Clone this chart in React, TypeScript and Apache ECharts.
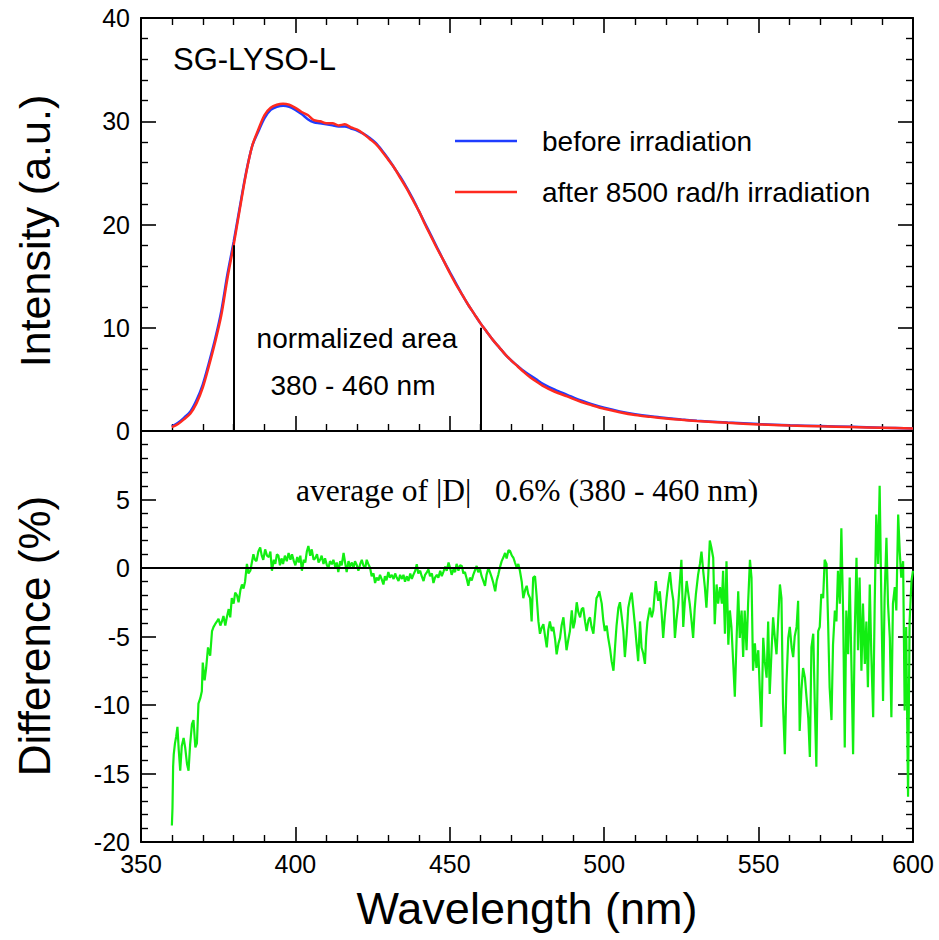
import React, { useEffect, useRef } from "react";
import * as echarts from "echarts";

// ---------- data ----------
const spectrumWavelengths = [
  360, 362, 364, 366, 368, 370, 372, 374, 376, 378, 380, 382, 384, 386, 388, 390,
  392, 394, 396, 398, 400, 402, 404, 406, 408, 410, 412, 414, 416, 418, 420, 422,
  424, 426, 428, 430, 432, 434, 436, 438, 440, 442, 444, 446, 448, 450, 452, 454,
  456, 458, 460, 462, 464, 466, 468, 470, 472, 474, 476, 478, 480, 484, 488, 492,
  496, 500, 505, 510, 515, 520, 525, 530, 540, 550, 560, 570, 580, 590, 600,
];
const beforeIntensity = [
  0.45, 0.8, 1.3, 1.9, 3.0, 4.5, 6.6, 8.9, 11.6, 15.2, 18.3, 21.7, 25.0, 27.6, 29.0, 30.3,
  31.1, 31.4, 31.5, 31.4, 31.1, 30.7, 30.2, 29.9, 29.8, 29.7, 29.6, 29.5, 29.5, 29.3, 29.1, 28.8,
  28.4, 27.9, 27.2, 26.4, 25.5, 24.6, 23.6, 22.5, 21.3, 20.1, 18.9, 17.7, 16.5, 15.4, 14.3, 13.2,
  12.2, 11.3, 10.4, 9.6, 8.8, 8.1, 7.4, 6.8, 6.3, 5.8, 5.4, 5.0, 4.6, 4.0, 3.5, 3.0,
  2.6, 2.25, 1.9, 1.62, 1.42, 1.27, 1.12, 1.0, 0.82, 0.67, 0.56, 0.48, 0.4, 0.32, 0.25,
];
const afterIntensity = [
  0.38, 0.68, 1.15, 1.7, 2.7, 4.2, 6.3, 8.6, 11.2, 14.8, 18.0, 21.5, 24.9, 27.6, 29.2, 30.6,
  31.3, 31.6, 31.7, 31.6, 31.3, 30.9, 30.6, 30.1, 30.0, 29.8, 29.8, 29.6, 29.7, 29.4, 29.2, 28.8,
  28.3, 27.8, 27.1, 26.3, 25.5, 24.5, 23.5, 22.4, 21.3, 20.0, 18.8, 17.6, 16.5, 15.3, 14.2, 13.2,
  12.2, 11.3, 10.4, 9.6, 8.8, 8.1, 7.4, 6.8, 6.25, 5.7, 5.2, 4.8, 4.4, 3.8, 3.35, 2.88,
  2.5, 2.15, 1.82, 1.55, 1.37, 1.22, 1.08, 0.97, 0.79, 0.64, 0.53, 0.45, 0.38, 0.31, 0.24,
];

// normalization window markers: [wavelength, height]
const areaMarkers = [
  [380, 18],
  [460, 10],
];

// difference (%) : [wavelength, value]
const differencePoints: [number, number][] = [
  [360.0, -18.8], [360.2, -17.5], [360.4, -14.5], [360.6, -13.6], [361.0, -12.8], [361.4, -12.3],
  [361.8, -11.6], [362.2, -13.2], [362.7, -14.8], [363.2, -13.0], [363.8, -12.4], [364.3, -13.1],
  [364.9, -14.3], [365.4, -14.8], [365.9, -12.9], [366.5, -11.4], [367.0, -11.1], [367.6, -13.1],
  [368.1, -12.8], [368.6, -9.9], [369.2, -9.5], [369.7, -9.0], [370.0, -6.9], [370.6, -8.2],
  [371.1, -7.3], [371.7, -5.8], [372.4, -6.4], [373.0, -4.6], [373.5, -4.3], [374.0, -4.1],
  [374.6, -3.9], [375.1, -3.7], [375.7, -4.2], [376.2, -3.9], [376.7, -3.5], [377.3, -4.2],
  [377.8, -3.6], [378.4, -3.0], [378.9, -3.6], [379.4, -2.2], [380.0, -2.6], [380.5, -1.8],
  [381.1, -2.0], [381.6, -2.5], [382.2, -1.6], [382.7, -1.2], [383.2, -1.5], [383.7, -1.0],
  [384.3, 0.3], [384.8, -0.4], [385.4, -0.2], [385.9, 0.4], [386.4, 1.0], [386.9, 0.6],
  [387.4, 0.5], [388.0, 1.2], [388.6, 1.5], [389.1, 0.9], [389.6, 0.6], [390.2, 1.36],
  [390.8, 0.9], [391.4, 0.8], [391.9, 1.2], [392.4, -0.2], [393.0, 0.6], [393.5, 0.3],
  [394.0, 1.0], [394.5, 0.9], [395.0, 0.2], [395.5, 0.7], [396.0, 0.3], [396.6, 0.9],
  [397.2, 0.5], [397.8, 1.1], [398.4, 0.6], [398.9, 1.0], [399.5, 0.5], [400.0, 0.2],
  [400.6, 0.8], [401.1, 0.4], [401.6, 0.9], [402.1, -0.2], [402.7, 0.6], [403.2, 0.4],
  [403.7, 1.2], [404.2, 1.6], [404.8, 0.9], [405.3, 1.36], [405.9, 0.6], [406.4, 0.7],
  [407.0, 1.0], [407.5, 0.4], [408.0, 0.6], [408.5, 0.9], [409.1, 0.3], [409.6, 0.7],
  [410.2, 0.2], [410.7, 0.0], [411.2, 0.5], [411.8, 0.27], [412.3, 0.6], [412.9, 0.1],
  [413.4, 0.4], [413.9, -0.3], [414.5, 0.5], [415.0, 0.2], [415.6, 1.1], [416.1, 0.4],
  [416.6, -0.3], [417.2, 0.5], [417.7, 0.1], [418.3, 0.4], [418.8, 0.0], [419.3, 0.5],
  [419.9, 0.2], [420.4, -0.2], [421.0, 0.3], [421.5, 0.6], [422.0, 0.2], [422.6, 0.0],
  [423.1, 0.6], [423.6, 0.3], [424.2, 0.0], [424.7, -0.6], [425.3, -0.4], [425.8, -1.1],
  [426.3, -0.7], [426.9, -0.9], [427.4, -0.5], [427.9, -0.8], [428.5, -1.2], [429.0, -0.6],
  [429.5, -0.9], [430.1, -0.3], [430.6, -0.7], [431.2, -0.5], [431.8, -0.8], [432.3, -0.4],
  [432.8, -0.7], [433.4, -0.95], [433.9, -0.5], [434.5, -0.8], [435.0, -0.5], [435.5, -1.0],
  [436.1, -0.6], [436.6, -0.95], [437.2, -0.4], [437.7, -0.8], [438.2, -0.5], [438.8, -0.2],
  [439.3, 0.27], [439.8, -0.4], [440.4, -0.2], [440.9, -0.6], [441.5, -0.95], [442.0, -0.5],
  [442.6, -0.3], [443.1, -0.1], [443.6, -0.6], [444.2, -0.4], [444.7, -1.1], [445.2, -0.7],
  [445.8, -0.5], [446.3, -0.7], [446.9, -0.2], [447.4, -0.6], [447.9, -0.3], [448.5, 0.1],
  [449.0, -0.2], [449.6, 0.4], [450.1, 0.0], [450.6, -0.5], [451.2, -0.1], [451.7, -0.3],
  [452.2, 0.3], [452.8, -0.2], [453.3, 0.2], [453.9, 0.15], [454.4, -0.4], [454.9, -0.3],
  [455.5, -0.8], [456.0, -1.3], [456.5, -0.7], [457.1, -0.9], [457.6, -0.5], [458.1, -0.2],
  [458.7, 0.15], [459.2, -0.3], [459.8, -0.1], [460.3, -0.6], [460.8, -0.9], [461.4, -1.3],
  [461.9, -0.5], [462.5, 0.0], [463.0, -0.3], [463.6, -0.7], [464.1, -1.1], [464.7, -1.7],
  [465.2, -0.9], [465.7, -0.5], [466.3, 0.1], [466.8, 0.5], [467.4, 0.8], [467.9, 1.1],
  [468.4, 0.7], [469.0, 1.3], [469.5, 1.24], [470.1, 0.9], [470.6, 0.75], [471.1, 0.4],
  [471.7, 0.0], [472.2, 0.3], [472.7, -0.2], [473.3, -1.0], [473.8, -2.2], [474.4, -1.6],
  [474.9, -1.3], [475.4, -1.9], [476.0, -2.2], [476.5, -3.9], [477.0, -0.7], [477.6, -0.6],
  [478.1, -2.0], [478.7, -3.9], [479.2, -4.8], [479.7, -4.4], [480.3, -4.1], [480.8, -4.9],
  [481.4, -5.8], [481.9, -4.5], [482.4, -3.9], [483.0, -4.6], [483.5, -4.3], [484.1, -5.2],
  [484.6, -6.3], [485.2, -5.5], [485.7, -5.1], [486.2, -4.2], [486.8, -3.6], [487.3, -4.8],
  [487.8, -6.0], [488.4, -5.2], [488.9, -4.6], [489.5, -3.1], [490.0, -4.4], [490.5, -3.9],
  [491.1, -2.5], [491.6, -3.2], [492.2, -3.6], [492.7, -3.0], [493.2, -2.9], [493.8, -3.9],
  [494.3, -4.6], [494.9, -3.8], [495.4, -3.6], [495.9, -4.3], [496.5, -4.8], [497.0, -3.5],
  [497.5, -2.2], [498.0, -2.0], [498.4, -1.7], [499.2, -2.6], [499.7, -3.8], [500.2, -4.6],
  [500.8, -4.2], [501.3, -5.1], [501.9, -5.9], [502.4, -6.8], [503.0, -7.5], [503.5, -5.8],
  [504.0, -4.2], [504.6, -2.9], [505.1, -2.5], [505.7, -3.6], [506.2, -4.6], [506.7, -6.5],
  [507.3, -4.8], [507.8, -2.9], [508.4, -2.2], [508.9, -1.8], [509.4, -2.9], [510.0, -4.3],
  [510.5, -5.6], [511.0, -6.8], [511.6, -3.9], [512.1, -5.8], [512.6, -6.2], [513.2, -7.0],
  [513.6, -5.0], [514.0, -3.9], [514.8, -2.9], [515.4, -3.6], [515.9, -3.1], [516.3, -2.0],
  [516.7, -0.95], [517.1, -1.8], [517.5, -2.4], [518.0, -1.7], [518.6, -3.3], [519.1, -5.1],
  [519.6, -3.6], [520.2, -2.2], [520.7, -1.2], [521.3, -0.3], [521.8, -1.5], [522.4, -2.4],
  [522.9, -5.1], [523.4, -3.8], [524.0, -2.6], [524.5, -1.0], [525.0, 0.6], [525.6, -4.3],
  [526.1, -2.5], [526.7, -0.95], [527.2, -1.8], [527.7, -2.6], [528.3, -3.9], [528.8, -5.1],
  [529.3, -3.0], [529.7, -1.9], [530.4, -0.5], [531.0, 0.3], [531.5, 1.2], [532.1, -0.3],
  [532.6, -1.4], [533.1, -2.9], [533.7, -0.5], [534.2, 2.0], [534.7, 1.5], [535.3, 0.75],
  [535.8, -4.1], [536.4, -1.2], [536.9, -2.6], [537.5, -1.4], [538.1, -2.6], [538.5, -0.2],
  [539.1, -4.8], [539.6, 0.5], [540.2, -5.6], [540.7, -3.1], [541.2, -4.3], [541.8, -7.0],
  [542.3, -9.4], [542.9, -5.0], [543.4, -1.7], [543.9, -5.1], [544.5, -3.1], [545.0, -6.5],
  [545.5, -3.1], [546.1, -6.0], [546.6, -2.6], [547.2, 0.6], [547.7, -0.7], [548.2, -7.5],
  [548.8, -5.5], [549.3, -7.3], [549.9, -6.0], [550.4, -9.0], [550.9, -11.6], [551.5, -5.1],
  [552.0, -6.8], [552.6, -8.0], [553.1, -3.9], [553.6, -9.2], [554.2, -6.0], [554.7, -3.6],
  [555.3, -5.2], [555.8, -6.3], [556.4, -3.5], [556.9, -1.2], [557.4, -2.2], [557.9, -9.9],
  [558.5, -13.6], [559.0, -8.5], [559.6, -5.1], [560.1, -4.3], [560.7, -5.8], [561.2, -6.5],
  [561.7, -5.0], [562.3, -4.3], [562.8, -2.4], [563.3, -11.9], [563.9, -8.8], [564.4, -7.3],
  [565.0, -8.0], [565.5, -9.4], [566.1, -11.0], [566.6, -13.8], [567.1, -5.8], [567.7, -4.8],
  [568.2, -9.9], [568.7, -14.5], [569.3, -4.6], [569.8, -4.3], [570.3, -1.9], [570.9, -2.2],
  [571.4, 0.6], [572.0, 0.3], [572.5, -3.9], [573.0, -8.7], [573.6, -11.1], [574.1, -5.6],
  [574.7, -3.1], [575.2, -3.9], [575.7, -0.2], [576.3, -2.6], [576.8, 2.9], [577.4, -3.6],
  [577.9, -13.1], [578.4, -3.1], [579.0, -6.3], [579.5, -0.7], [580.1, -7.5], [580.6, -13.6],
  [581.1, -5.1], [581.7, 0.75], [582.2, -6.0], [582.7, -0.7], [583.3, -7.5], [583.8, -2.6],
  [584.4, -7.0], [584.9, -3.9], [585.4, -8.7], [586.0, -1.2], [586.5, -6.3], [587.1, -10.9],
  [587.6, -2.6], [588.1, 3.9], [588.7, 0.3], [589.2, 6.0], [589.8, -3.1], [590.3, -9.7],
  [590.8, -2.2], [591.4, 2.2], [591.9, -2.6], [592.5, -5.1], [593.0, -10.9], [593.5, -2.6],
  [594.1, -1.4], [594.6, -3.1], [595.2, 3.9], [595.7, 1.2], [596.2, -0.7], [596.8, 0.5],
  [597.3, -10.4], [597.8, -4.3], [598.4, -16.7], [598.9, -3.9], [599.5, -0.95], [600.0, -0.2],
];

const xTicks = { min: 350, max: 600, interval: 50 };
const intensityTicks = { min: 0, max: 40, interval: 10 };
const differenceTicks = { min: -20, max: 10, interval: 5 };

const seriesNames = ["before irradiation", "after 8500 rad/h irradiation"];
const panelLabel = "SG-LYSO-L";
const areaLabelLines = ["normalized area", "380 - 460 nm"];
const averageNote = "average of |D|\u00a0\u00a0 0.6% (380 - 460 nm)";

// ---------- styling ----------
const SANS = "'Liberation Sans', Arial, Helvetica, sans-serif";
const SERIF = "'Liberation Serif', 'Times New Roman', serif";
const BLUE = "#1f3dff";
const RED = "#ff2a1f";
const GREEN = "#12ee12";

const axisLine = { show: true, onZero: false, lineStyle: { color: "#000", width: 2 } };
const axisTick = { show: true, inside: true, length: 15, lineStyle: { color: "#000", width: 1.6 } };
const minorTick = { show: true, splitNumber: 5, length: 7, lineStyle: { color: "#000", width: 1.4 } };

function makeX(gridIndex: number, position: string, showLabel: boolean, showTicks = true) {
  return {
    type: "value",
    gridIndex,
    position,
    ...xTicks,
    axisLine,
    axisTick: { ...axisTick, show: showTicks },
    minorTick: { ...minorTick, show: showTicks },
    splitLine: { show: false },
    axisLabel: {
      show: showLabel,
      color: "#000",
      fontFamily: SANS,
      fontSize: 25,
      margin: 9,
    },
  };
}

function makeY(gridIndex: number, position: string, range: any, showLabel: boolean, hide?: number) {
  return {
    type: "value",
    gridIndex,
    position,
    ...range,
    axisLine,
    axisTick,
    minorTick,
    splitLine: { show: false },
    axisLabel: {
      show: showLabel,
      color: "#000",
      fontFamily: SANS,
      fontSize: 25,
      margin: 11,
      formatter: (v: number) => (hide !== undefined && v === hide ? "" : String(v)),
    },
  };
}

export default function App() {
  const ref = useRef<HTMLDivElement>(null);

  useEffect(() => {
    document.body.style.margin = "0";
    document.body.style.overflow = "hidden";
    if (!ref.current) return;
    const chart = echarts.init(ref.current, undefined, { renderer: "svg" });

    const before = spectrumWavelengths.map((w, i) => [w, beforeIntensity[i]]);
    const after = spectrumWavelengths.map((w, i) => [w, afterIntensity[i]]);

    const option: any = {
      animation: false,
      backgroundColor: "#fff",
      grid: [
        { left: 141, top: 18, width: 772, height: 413 },
        { left: 141, top: 431, width: 772, height: 411 },
      ],
      xAxis: [
        makeX(0, "bottom", false),
        makeX(0, "top", false),
        makeX(1, "bottom", true),
        makeX(1, "top", false, false),
      ],
      yAxis: [
        makeY(0, "left", intensityTicks, true),
        makeY(0, "right", intensityTicks, false),
        makeY(1, "left", differenceTicks, true, 10),
        makeY(1, "right", differenceTicks, false),
      ],
      legend: {
        orient: "vertical",
        left: 450,
        top: 121,
        icon: "rect",
        itemWidth: 62,
        itemHeight: 2.5,
        itemGap: 21,
        data: seriesNames,
        textStyle: {
          fontFamily: SANS,
          fontSize: 28,
          lineHeight: 30,
          color: "#000",
          padding: [0, 0, 0, 20],
        },
      },
      series: [
        {
          name: seriesNames[0],
          type: "line",
          xAxisIndex: 0,
          yAxisIndex: 0,
          data: before,
          smooth: 0.3,
          symbol: "none",
          color: BLUE,
          lineStyle: { color: BLUE, width: 2.5 },
          z: 2,
          markLine: {
            silent: true,
            symbol: "none",
            label: { show: false },
            lineStyle: { color: "#000", width: 2, type: "solid" },
            data: areaMarkers.map(([w, h]) => [{ coord: [w, 0] }, { coord: [w, h] }]),
          },
        },
        {
          name: seriesNames[1],
          type: "line",
          xAxisIndex: 0,
          yAxisIndex: 0,
          data: after,
          smooth: 0.3,
          symbol: "none",
          color: RED,
          lineStyle: { color: RED, width: 2.5 },
          z: 3,
        },
        {
          name: "difference",
          type: "line",
          xAxisIndex: 2,
          yAxisIndex: 2,
          data: differencePoints,
          symbol: "none",
          color: GREEN,
          lineStyle: { color: GREEN, width: 2.2 },
          z: 2,
          markLine: {
            silent: true,
            symbol: "none",
            label: { show: false },
            lineStyle: { color: "#000", width: 2, type: "solid" },
            data: [{ yAxis: 0 }],
          },
        },
      ],
      graphic: [
        {
          type: "text",
          left: 173,
          top: 44,
          style: { text: panelLabel, font: `31px ${SANS}`, fill: "#000" },
        },
        {
          type: "text",
          x: 357,
          y: 338,
          style: {
            text: areaLabelLines[0],
            font: `28px ${SANS}`,
            fill: "#000",
            textAlign: "center",
            textVerticalAlign: "middle",
          },
        },
        {
          type: "text",
          x: 353,
          y: 385,
          style: {
            text: areaLabelLines[1],
            font: `28px ${SANS}`,
            fill: "#000",
            textAlign: "center",
            textVerticalAlign: "middle",
          },
        },
        {
          type: "text",
          x: 296,
          y: 490,
          style: {
            text: averageNote,
            font: `31.5px ${SERIF}`,
            fill: "#000",
            textAlign: "left",
            textVerticalAlign: "middle",
          },
        },
        {
          type: "text",
          x: 35,
          y: 231,
          rotation: Math.PI / 2,
          style: {
            text: "Intensity (a.u.)",
            font: `43px ${SANS}`,
            fill: "#000",
            textAlign: "center",
            textVerticalAlign: "middle",
          },
        },
        {
          type: "text",
          x: 34,
          y: 636,
          rotation: Math.PI / 2,
          style: {
            text: "Difference (%)",
            font: `44px ${SANS}`,
            fill: "#000",
            textAlign: "center",
            textVerticalAlign: "middle",
          },
        },
        {
          type: "text",
          x: 527,
          y: 908,
          style: {
            text: "Wavelength (nm)",
            font: `45px ${SANS}`,
            fill: "#000",
            textAlign: "center",
            textVerticalAlign: "middle",
          },
        },
      ],
    };

    chart.setOption(option);
    return () => chart.dispose();
  }, []);

  return <div ref={ref} style={{ width: 939, height: 940 }} />;
}
